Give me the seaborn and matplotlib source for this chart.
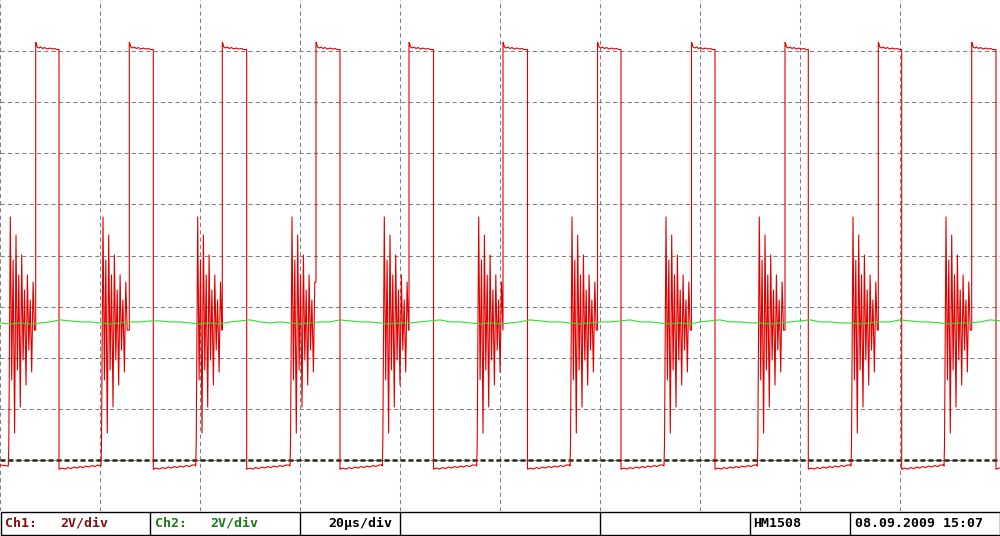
import numpy as np
import pandas as pd
import matplotlib
matplotlib.use("Agg")
import matplotlib.pyplot as plt
import seaborn as sns

# Scope screen: 20 us/div horizontally, 2 V/div vertically, 10 x 10 divisions
x_ticks = list(range(0, 200, 20))
y_ticks = list(range(-8, 10, 2))
ground_level = -8.0

# Ch1 edge times in us, read per period from the screen
burst_start = [1.66, 20.2, 39.14, 58.0, 76.46, 95.34, 114.0, 132.8, 151.46, 170.2, 188.8]
rise_t = [7.14, 25.86, 44.46, 63.2, 81.8, 100.6, 119.5, 138.3, 157.0, 175.66, 194.34]
fall_t = [11.8, 30.66, 49.34, 68.0, 86.7, 105.5, 124.2, 143.0, 161.66, 180.34, 199.2]

# ringing burst before each rising edge (offset us, volts)
ring_dt = [0.00, 0.10, 0.40, 0.68, 0.96, 1.26, 1.54, 1.82, 2.10, 2.40,
           2.68, 2.96, 3.24, 3.54, 3.82, 4.10, 4.38, 4.68, 4.96, 5.24]
ring_v = [-8.24, -7.42, 1.51, -4.87, -0.18, -6.95, 0.80, -4.48, -0.76, -5.93,
          0.02, -4.09, -1.35, -5.07, -0.76, -3.70, -1.74, -4.56, -1.04, -2.92]

# flat top of the pulse (offset after rise)
high_dt = [0.05, 0.3, 0.7, 1.0, 1.4, 1.8, 2.3, 2.8, 3.3, 3.8, 4.3]
high_v = [8.34, 8.16, 8.12, 8.16, 8.10, 8.14, 8.08, 8.12, 8.08, 8.10, 8.06]

# low level after the falling edge (offset after fall)
low_dt = [0.05, 0.6, 1.2, 1.8, 2.4, 3.0, 3.6, 4.2, 4.8, 5.4, 6.0, 6.6, 7.2, 7.8, 8.4]
low_v = [-8.36, -8.32, -8.36, -8.30, -8.34, -8.28, -8.32, -8.26, -8.30, -8.24,
         -8.28, -8.22, -8.26, -8.20, -8.20]

# Ch2 trace, read every 2 us
ch2_t = list(range(0, 201, 2))
ch2_v = [-2.64, -2.68, -2.64, -2.68, -2.64, -2.60, -2.52, -2.56, -2.60, -2.60,
         -2.64, -2.68, -2.64, -2.60, -2.60, -2.56, -2.56, -2.60, -2.60, -2.64,
         -2.68, -2.64, -2.68, -2.60, -2.56, -2.52, -2.60, -2.64, -2.60, -2.64,
         -2.68, -2.64, -2.60, -2.60, -2.52, -2.56, -2.60, -2.60, -2.64, -2.68,
         -2.64, -2.64, -2.60, -2.56, -2.52, -2.60, -2.60, -2.64, -2.68, -2.64,
         -2.68, -2.64, -2.60, -2.52, -2.56, -2.60, -2.60, -2.64, -2.68, -2.64,
         -2.60, -2.60, -2.56, -2.52, -2.60, -2.60, -2.64, -2.68, -2.64, -2.68,
         -2.60, -2.56, -2.52, -2.60, -2.60, -2.64, -2.64, -2.68, -2.64, -2.60,
         -2.56, -2.52, -2.60, -2.60, -2.64, -2.64, -2.68, -2.64, -2.60, -2.60,
         -2.52, -2.56, -2.60, -2.60, -2.64, -2.68, -2.64, -2.64, -2.60, -2.52,
         -2.56]

# status line
status_left = ["Ch1:", "2V/div", "Ch2:", "2V/div"]
status_right = ["20\u00b5s/div", "HM1508", "08.09.2009 15:07"]

# build ch1 polyline from the pieces
t, v = [0.0], [-8.20]
n = len(rise_t)
for k in range(n):
    b, r, f = burst_start[k], rise_t[k], fall_t[k]
    for dt, vv in zip(ring_dt, ring_v):
        if b + dt < r:
            t.append(b + dt)
            v.append(vv)
    t += [r, r]
    v += [v[-1], high_v[0]]
    for dt, vv in zip(high_dt, high_v):
        if r + dt < f:
            t.append(r + dt)
            v.append(vv)
    t += [f, f]
    v += [v[-1], low_v[0]]
    end = burst_start[k + 1] if k + 1 < n else 200.0
    for dt, vv in zip(low_dt, low_v):
        if f + dt < end:
            t.append(f + dt)
            v.append(vv)
t.append(200.0)
v.append(v[-1])
ch1 = pd.DataFrame({"t": t, "v": v})
ch2 = pd.DataFrame({"t": ch2_t, "v": ch2_v})

sns.set_style("white")
plt.rcParams['font.family'] = ['DejaVu Sans Mono']

fig = plt.figure(figsize=(10, 5.36), dpi=100)
ax = fig.add_axes([0, 25 / 536, 1, 511 / 536])
ax.set_xlim(0, 200)
ax.set_ylim(-10, 10)
ax.set_xticks(x_ticks)
ax.set_yticks(y_ticks)
ax.grid(True, color="#808080", linestyle=(0, (4, 3)), linewidth=0.75)
ax.tick_params(length=0, labelbottom=False, labelleft=False)
for s in ax.spines.values():
    s.set_visible(False)

ax.axhline(ground_level, color="#1e2a14", linewidth=1.8, linestyle=(0, (2.0, 1.2)), zorder=2)
sns.lineplot(data=ch1, x="t", y="v", sort=False, estimator=None, color="#e00000",
             linewidth=0.8, ax=ax, zorder=3)
sns.lineplot(data=ch2, x="t", y="v", sort=False, estimator=None, color="#2ee02e",
             linewidth=0.8, ax=ax, zorder=4)
ax.set_xlabel("")
ax.set_ylabel("")

# status bar
sb = fig.add_axes([0, 0, 1, 25 / 536])
sb.set_xlim(0, 1000)
sb.set_ylim(0, 25)
sb.axis("off")
sb.plot([0.5, 999.5, 999.5, 0.5, 0.5], [1, 1, 24, 24, 1], color="black", lw=1)
for xc in [150, 300, 400, 600, 750, 850]:
    sb.plot([xc, xc], [1, 24], color="black", lw=1)
fs = 9.5
sb.text(5, 12.5, status_left[0], color="#801010", fontsize=fs, fontweight="bold", va="center")
sb.text(60, 12.5, status_left[1], color="#801010", fontsize=fs, fontweight="bold", va="center")
sb.text(155, 12.5, status_left[2], color="#1a7a1a", fontsize=fs, fontweight="bold", va="center")
sb.text(210, 12.5, status_left[3], color="#1a7a1a", fontsize=fs, fontweight="bold", va="center")
sb.text(392, 12.5, status_right[0], color="black", fontsize=fs, fontweight="bold", va="center", ha="right")
sb.text(753, 12.5, status_right[1], color="black", fontsize=fs, fontweight="bold", va="center")
sb.text(855, 12.5, status_right[2], color="black", fontsize=fs, fontweight="bold", va="center")

fig.savefig("out.png", dpi=100, facecolor="white")
